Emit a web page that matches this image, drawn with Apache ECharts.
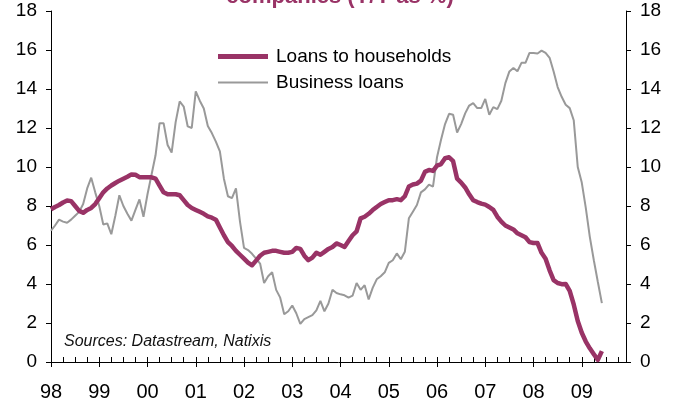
<!DOCTYPE html>
<html>
<head>
<meta charset="utf-8">
<script src="https://cdn.jsdelivr.net/npm/echarts@6/dist/echarts.min.js"></script>
<style>
  html, body { margin: 0; padding: 0; background: #fff; }
  #chart { width: 673px; height: 402px; }
</style>
</head>
<body>
<div id="chart"></div>
<script>
// Monthly axis: Jan 1998 .. Dec 2009
const startYear = 1998;
const monthCount = 144;

// Year-on-year growth, %, monthly from Jan 1998
const households = [
  7.83, 7.95, 8.05, 8.18, 8.28, 8.25, 8.0, 7.75, 7.65, 7.8, 7.9, 8.1,
  8.4, 8.7, 8.9, 9.05, 9.18, 9.3, 9.4, 9.5, 9.62, 9.6, 9.48, 9.47,
  9.47, 9.47, 9.4, 9.05, 8.7, 8.6, 8.6, 8.6, 8.55, 8.3, 8.05, 7.9,
  7.8, 7.7, 7.6, 7.47, 7.4, 7.3, 6.9, 6.5, 6.15, 5.95, 5.7, 5.5,
  5.3, 5.1, 4.96, 5.2, 5.45, 5.6, 5.65, 5.7, 5.7, 5.65, 5.6, 5.6,
  5.65, 5.85, 5.8, 5.45, 5.22, 5.35, 5.6, 5.5, 5.65, 5.8, 5.9, 6.08,
  6.0, 5.9, 6.2, 6.5, 6.7, 7.37, 7.45, 7.6, 7.79, 7.95, 8.1, 8.2,
  8.3, 8.3, 8.35, 8.3, 8.5, 9.0, 9.1, 9.15, 9.3, 9.75, 9.85, 9.8,
  10.07, 10.15, 10.45, 10.5, 10.3, 9.4, 9.2, 8.95, 8.6, 8.3, 8.2, 8.12,
  8.07, 7.95, 7.8, 7.45, 7.2, 7.0, 6.9, 6.8, 6.6, 6.5, 6.4, 6.15,
  6.1, 6.1, 5.6, 5.3, 4.7, 4.2, 4.05, 3.99, 4.0, 3.65, 2.95, 2.1,
  1.5, 1.05, 0.7, 0.4, 0.11, 0.56
];

const business = [
  6.73, 7.0, 7.3, 7.2, 7.14, 7.3, 7.5, 7.7, 8.1, 8.9, 9.45, 8.7,
  8.0, 7.05, 7.11, 6.55, 7.5, 8.55, 8.0, 7.6, 7.25, 7.8, 8.34, 7.45,
  8.6, 9.6, 10.6, 12.25, 12.25, 11.13, 10.74, 12.3, 13.36, 13.1, 12.08, 12.0,
  13.88, 13.4, 13.0, 12.1, 11.74, 11.3, 10.8, 9.4, 8.5, 8.4, 8.9, 7.2,
  5.85, 5.74, 5.55, 5.3, 5.05, 4.05, 4.4, 4.6, 3.7, 3.3, 2.45, 2.6,
  2.9, 2.5, 1.95, 2.2, 2.3, 2.4, 2.65, 3.13, 2.6, 3.0, 3.71, 3.54,
  3.47, 3.42, 3.3, 3.4, 4.05, 3.7, 3.94, 3.21, 3.8, 4.24, 4.4, 4.6,
  5.08, 5.22, 5.57, 5.27, 5.65, 7.37, 7.71, 8.05, 8.7, 8.85, 9.1, 8.99,
  10.5, 11.4, 12.2, 12.73, 12.68, 11.77, 12.2, 12.75, 13.15, 13.28, 13.02, 13.02,
  13.49, 12.68, 13.07, 12.97, 13.4, 14.3, 14.9, 15.08, 14.91, 15.34, 15.34, 15.85,
  15.84, 15.82, 15.97, 15.85, 15.6, 14.9, 14.1, 13.6, 13.19, 13.02, 12.4, 10.0,
  9.2, 7.9, 6.42, 5.22, 4.1, 3.02
];

const seriesNames = ['Loans to households', 'Business loans'];
const titleText = 'companies (Y/Y as %)';
const sourceText = 'Sources: Datastream, Natixis';

const yMin = 0, yMax = 18, yStep = 2;

// Category labels: "1998-01" ... "2009-12"
const months = [];
for (let i = 0; i < monthCount; i++) {
  const y = startYear + Math.floor(i / 12);
  const m = (i % 12) + 1;
  months.push(y + '-' + (m < 10 ? '0' + m : m));
}

const FONT = 'Liberation Sans, Arial, sans-serif';
const PLUM = '#993366';
const GREY = '#999999';

const chart = echarts.init(document.getElementById('chart'), null, { renderer: 'canvas' });

const yAxisBase = {
  type: 'value',
  min: yMin, max: yMax, interval: yStep,
  axisLine: { show: true, lineStyle: { color: '#000', width: 1 } },
  axisTick: { show: true, inside: false, length: 5, lineStyle: { color: '#000' } },
  splitLine: { show: false },
  axisLabel: { color: '#000', fontSize: 19, fontFamily: FONT, margin: 14 }
};

const legendBase = {
  orient: 'vertical', left: 218, padding: 0,
  icon: 'rect', itemWidth: 50,
  textStyle: { color: '#000', fontSize: 19, fontFamily: FONT, padding: [0, 0, 0, 3] }
};

chart.setOption({
  animation: false,
  backgroundColor: '#fff',
  grid: { left: 51, right: 47, top: 11, bottom: 40, containLabel: false },
  xAxis: [
    {
      type: 'category',
      data: months,
      boundaryGap: false,
      axisLine: { show: true, lineStyle: { color: '#000', width: 1 } },
      axisTick: { show: true, inside: true, length: 5, interval: (i) => i % 3 === 0, lineStyle: { color: '#000' } },
      axisLabel: {
        show: true, interval: (i) => i % 12 === 0, color: '#000', fontSize: 20, fontFamily: FONT, margin: 20,
        formatter: (v) => v.slice(2, 4)
      },
      splitLine: { show: false }
    },
    {
      // outward half of the yearly ticks, so they cross the axis line
      type: 'category',
      data: months,
      boundaryGap: false,
      position: 'bottom',
      axisLine: { show: false },
      axisTick: { show: true, inside: false, length: 5, interval: (i) => i % 12 === 0, lineStyle: { color: '#000' } },
      axisLabel: { show: false },
      splitLine: { show: false }
    }
  ],
  yAxis: [
    Object.assign({}, yAxisBase, { position: 'left' }),
    Object.assign({}, yAxisBase, { position: 'right' })
  ],
  legend: [
    Object.assign({}, legendBase, { data: [seriesNames[0]], top: 47, itemHeight: 5 }),
    Object.assign({}, legendBase, { data: [seriesNames[1]], top: 73, itemHeight: 2 })
  ],
  graphic: [
    {
      type: 'text', x: 340, y: 8, silent: true,
      style: {
        text: titleText, fill: PLUM, font: 'bold 22px ' + FONT,
        align: 'center', verticalAlign: 'bottom'
      }
    },
    {
      type: 'text', x: 64, y: 342, silent: true,
      style: {
        text: sourceText, fill: '#111', font: 'italic 16px ' + FONT,
        align: 'left', verticalAlign: 'middle'
      }
    }
  ],
  series: [
    {
      name: seriesNames[1], type: 'line', xAxisIndex: 0, yAxisIndex: 0,
      data: business, symbol: 'none', z: 2,
      itemStyle: { color: GREY },
      lineStyle: { color: GREY, width: 2 }
    },
    {
      name: seriesNames[0], type: 'line', xAxisIndex: 0, yAxisIndex: 0,
      data: households, symbol: 'none', z: 3,
      itemStyle: { color: PLUM },
      lineStyle: { color: PLUM, width: 4.5, join: 'round' }
    }
  ]
});
</script>
</body>
</html>
